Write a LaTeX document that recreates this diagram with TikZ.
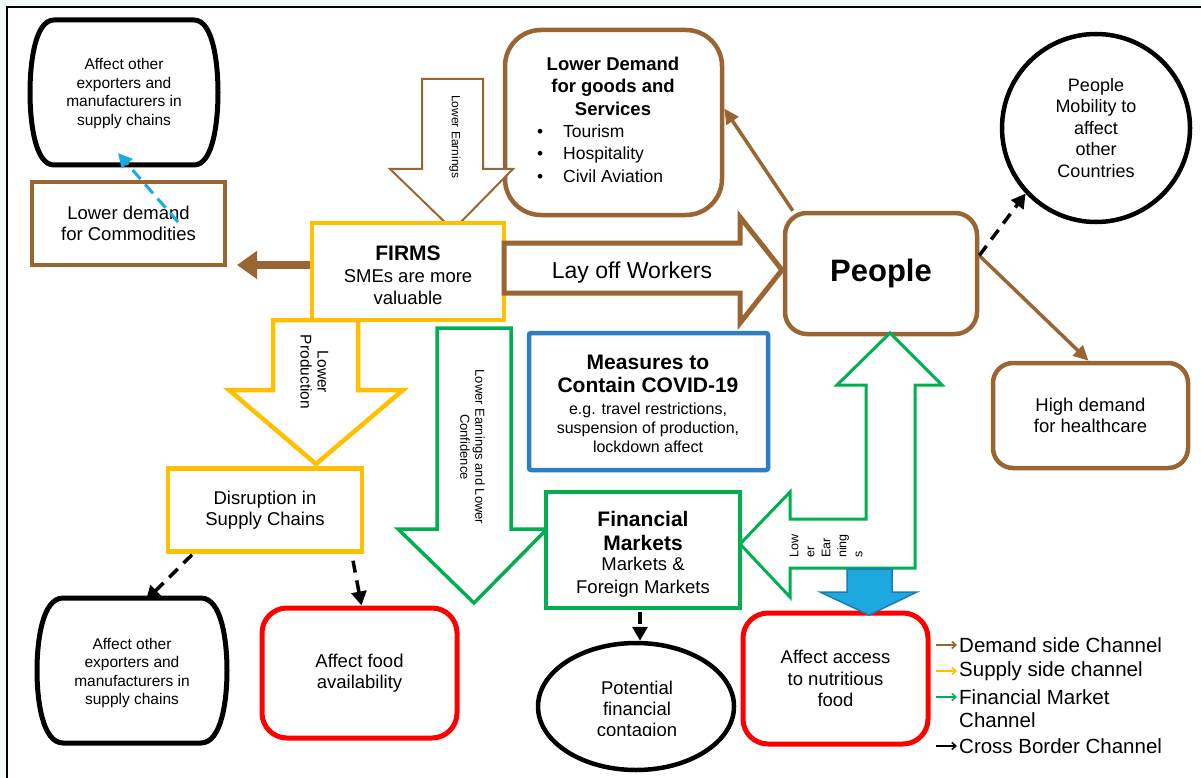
\documentclass[tikz,border=0pt]{standalone}
\usepackage{fontspec}
\setmainfont{Liberation Sans}
\usetikzlibrary{arrows.meta,calc,shapes.geometric}
\definecolor{brn}{RGB}{153,102,51}
\definecolor{ylw}{RGB}{255,192,0}
\definecolor{grn}{RGB}{0,176,80}
\definecolor{blu}{RGB}{46,125,194}
\definecolor{cyn}{RGB}{30,168,224}
\definecolor{cyndk}{RGB}{27,125,181}
\definecolor{bgc}{RGB}{244,249,249}
\begin{document}
\begin{tikzpicture}[x=1pt,y=-1pt,
  tf/.style={font=\fontsize{18.5}{21.5}\selectfont, align=center, inner sep=0pt},
  sf/.style={font=\fontsize{15.5}{18.7}\selectfont, align=center, inner sep=0pt},
  bf/.style={font=\fontsize{21}{24}\selectfont\bfseries, align=center, inner sep=0pt},
  box/.style={rectangle, line width=4.5pt, fill=white, inner sep=0pt},
  brownbox/.style={box, draw=brn},
  ylwbox/.style={box, draw=ylw},
  redbox/.style={box, draw=red, line width=5pt, rounded corners=25pt},
  blockbrn/.style={draw=brn, fill=white, line join=miter},
  brnarrow/.style={draw=brn, line width=3.5pt, -{Triangle[length=15pt,width=14pt]}},
  blkdash/.style={draw=black, line width=3.5pt, dash pattern=on 12pt off 8pt, -{Triangle[length=14pt,width=15pt]}},
  legarrow/.style={line width=1.6pt, -{Straight Barb[length=4pt,width=7pt]}},
  legtext/.style={font=\fontsize{20.5}{23.5}\selectfont, align=left, anchor=west, inner sep=0pt}
]
\useasboundingbox (0,0) rectangle (1201,778);
\clip (0,0) rectangle (1201,778);
\fill[bgc] (0,0) rectangle (1201,778);
\draw[line width=1.5pt, fill=white] (7,7) rectangle (1240,800);

% top-left barrel
\draw[line width=5pt, fill=white] (54,20) -- (194,20) .. controls (213.2,20) and (218,63.5) .. (218,92.5) .. controls (218,121.5) and (213.2,165) .. (194,165) -- (54,165) .. controls (34.8,165) and (30,121.5) .. (30,92.5) .. controls (30,63.5) and (34.8,20) .. (54,20) -- cycle;
\node[sf, minimum width=188, minimum height=145] (ex1) at (124,93.5) {Affect other\\exporters and\\manufacturers in\\supply chains};

% commodities
\node[brownbox, tf, minimum width=193, minimum height=83] (comm) at (128.5,223.5) {Lower demand\\for Commodities};

% Lower demand for goods box
\node[brownbox, rounded corners=36pt, minimum width=217, minimum height=185] (ld) at (613.5,122.5) {};
\node[font=\fontsize{18.5}{22.5}\selectfont\bfseries, align=center, inner sep=0pt] (ldh) at (613,86) {Lower Demand\\for goods and\\Services};
\node[font=\fontsize{17.5}{22.5}\selectfont, align=left, anchor=west, inner sep=0pt] (ldb) at (537,153.5) {\makebox[26pt][l]{\textbullet}Tourism\\\makebox[26pt][l]{\textbullet}Hospitality\\\makebox[26pt][l]{\textbullet}Civil Aviation};

% Lower earnings block arrow
\draw[blockbrn, line width=2pt] (422,79) -- (483,79) -- (483,169) -- (513,169) -- (453,230) -- (390,169) -- (422,169) -- cycle;
\node[font=\fontsize{12}{14}\selectfont, rotate=-90, inner sep=0pt] (le) at (455,137) {Lower Earnings};

% FIRMS
\node[ylwbox, minimum width=192, minimum height=97] (firms) at (408,271.5) {};
\node[bf] (firmst) at (408,253) {FIRMS};
\node[tf] (firmss) at (408,287) {SMEs are more\\valuable};

% Lay off workers block arrow
\draw[blockbrn, line width=5pt] (504,243) -- (740,243) -- (740,217) -- (782,270) -- (740,323) -- (740,293) -- (504,293) -- cycle;
\node[font=\fontsize{23}{26}\selectfont, inner sep=0pt] (layoff) at (632,273) {Lay off Workers};

% People
\node[brownbox, rounded corners=22pt, minimum width=192, minimum height=121, font=\fontsize{31}{34}\selectfont\bfseries] (people) at (881,273.5) {People};

% People mobility circle
\node[circle, draw=black, line width=4.5pt, fill=white, minimum size=188, inner sep=0pt, font=\fontsize{18}{21.5}\selectfont, align=center] (mob) at (1096,128) {People\\Mobility to\\affect\\other\\Countries};

% High demand
\node[brownbox, rounded corners=20pt, minimum width=195, minimum height=105, tf] (hd) at (1090.5,415.5) {High demand\\for healthcare};

% Lower production yellow block arrow
\draw[draw=ylw, fill=white, line width=4.5pt] (273,320) -- (358,320) -- (358,390) -- (403,390) -- (316,464) -- (229,390) -- (273,390) -- cycle;
\node[font=\fontsize{15.5}{17}\selectfont, rotate=-90, align=center, inner sep=0pt] (lp) at (314.5,372) {Lower\\Production};

% Disruption
\node[ylwbox, tf, minimum width=194, minimum height=83] (dis) at (265,510) {Disruption in\\Supply Chains};

% Measures
\node[box, draw=blu, rounded corners=2pt, minimum width=239, minimum height=137] (meas) at (648.5,401.5) {};
\node[bf, font=\fontsize{21}{23}\selectfont\bfseries] (meas1) at (648,374) {Measures to\\Contain COVID-19};
\node[font=\fontsize{16}{19}\selectfont, align=center, inner sep=0pt] (meas2) at (648,427.5) {e.g. travel restrictions,\\suspension of production,\\lockdown affect};

% green block arrow
\draw[draw=grn, fill=white, line width=3.5pt] (437,328) -- (511,328) -- (511,529) -- (547,529) -- (474,603) -- (398,529) -- (437,529) -- cycle;
\node[font=\fontsize{13}{15}\selectfont, rotate=-90, align=center, inner sep=0pt] (lec) at (472.5,447) {Lower Earnings and Lower\\Confidence};

% Financial markets
\node[box, draw=grn, minimum width=194, minimum height=116] (fin) at (643,550) {};
\node[bf] (fin1) at (643,531) {Financial\\Markets};
\node[font=\fontsize{18.5}{23}\selectfont, align=center, inner sep=0pt] (fin2) at (643,577) {Markets \&\\Foreign Markets};

% Affect access
\node[redbox, tf, minimum width=185, minimum height=131] (acc) at (835.5,678.5) {Affect access\\to nutritious\\food};

% green bent double arrow
\draw[draw=grn, fill=white, line width=3pt, line join=miter] (890,333) -- (942,385) -- (915,385) -- (915,568) -- (790,568) -- (790,597) -- (740,544) -- (790,492) -- (790,519) -- (866,519) -- (866,385) -- (837,385) -- cycle;
\node[font=\fontsize{12.5}{16}\selectfont, rotate=90, align=left, anchor=west, inner sep=0pt] (lowe) at (826,558) {Low\\er\\Ear\\ning\\s};

% blue block arrow
\draw[draw=cyndk, fill=cyn, line width=1.5pt] (847,569) -- (892,569) -- (892,592) -- (917,592) -- (869,615) -- (820,592) -- (847,592) -- cycle;

% Potential financial contagion
\node[ellipse, draw=black, line width=4.5pt, fill=white, minimum width=196, minimum height=127, inner sep=0pt] (cont) at (636,706.5) {};
\begin{scope}
\clip (530,640) rectangle (745,735);
\node[tf, font=\fontsize{18.5}{21}\selectfont] (contt) at (637,711) {Potential\\financial\\contagion};
\end{scope}

% Affect food availability
\node[redbox, tf, minimum width=195, minimum height=130] (food) at (359.5,673) {Affect food\\availability};

% bottom barrel
\draw[line width=5pt, fill=white] (63,598) -- (201,598) .. controls (221.8,598) and (227,641.5) .. (227,670.5) .. controls (227,699.5) and (221.8,743) .. (201,743) -- (63,743) .. controls (42.2,743) and (37,699.5) .. (37,670.5) .. controls (37,641.5) and (42.2,598) .. (63,598) -- cycle;
\node[sf, font=\fontsize{15.5}{18.3}\selectfont, minimum width=190, minimum height=145] (ex2) at (132,673) {Affect other\\exporters and\\manufacturers in\\supply chains};

% connectors
\coordinate (commtip) at (237,265);
\draw[draw=brn, line width=8pt, -{Triangle[length=20pt,width=27pt]}] ([yshift=6.5pt]firms.west) -- (commtip);
\draw[draw=cyn, line width=3pt, dash pattern=on 12pt off 7pt, -{Triangle[length=14pt,width=14pt]}] ([xshift=49.5pt,yshift=1.5pt]comm.center) -- ([xshift=-6pt,yshift=13pt]ex1.south);
\draw[brnarrow] ([xshift=10pt]people.north west) -- ([yshift=14pt]ld.east);
\draw[brnarrow] ([yshift=18pt]people.east) -- ([xshift=-2pt]hd.north);
\draw[blkdash] ([yshift=18pt]people.east) -- (mob.223);
\draw[blkdash] ([xshift=-3pt,yshift=-2pt]fin.south) -- ([xshift=4pt]cont.north);
\draw[blkdash] ([xshift=-73pt,yshift=-1pt]dis.south) -- ([xshift=14pt]ex2.north);
\draw[blkdash] ([xshift=88pt,yshift=-7pt]dis.south) -- ([xshift=2pt]food.north);

% legend
\node[legtext] (lg1) at (959,645) {Demand side Channel};
\node[legtext] (lg2) at (959,671) {Supply side channel};
\node[legtext] (lg3) at (959,708.5) {Financial Market\\Channel};
\node[legtext] (lg4) at (959,746) {Cross Border Channel};
\draw[legarrow, draw=brn] ([xshift=-23pt]lg1.west) -- ([xshift=-2pt]lg1.west);
\draw[legarrow, draw=ylw] ([xshift=-23pt]lg2.west) -- ([xshift=-2pt]lg2.west);
\draw[legarrow, draw=grn] ([xshift=-23pt,yshift=11.5pt]lg3.west) -- ([xshift=-2pt,yshift=11.5pt]lg3.west);
\draw[legarrow, draw=black] ([xshift=-23pt]lg4.west) -- ([xshift=-2pt]lg4.west);
\end{tikzpicture}
\end{document}
